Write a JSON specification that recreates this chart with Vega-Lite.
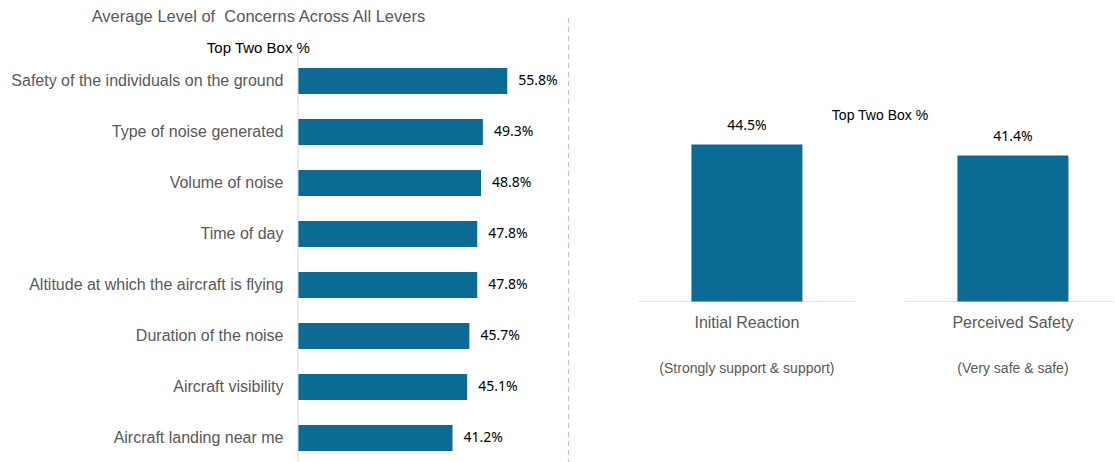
{
  "$schema": "https://vega.github.io/schema/vega-lite/v6.json",
  "padding": {"left": 10, "top": 8.5, "right": 0, "bottom": 0},
  "spacing": 0,
  "config": {"view": {"stroke": null}, "font": "Liberation Sans"},
  "hconcat": [
    {
      "title": {
        "text": "Average Level of\u00a0 Concerns Across All Levers",
        "subtitle": "Top Two Box %",
        "anchor": "middle",
        "frame": "bounds",
        "dx": -31,
        "fontSize": 16.5,
        "fontWeight": "normal",
        "color": "#595959",
        "font": "Liberation Sans",
        "subtitleFont": "Liberation Sans",
        "subtitleFontSize": 15,
        "subtitleColor": "#000000",
        "subtitlePadding": 15.5,
        "offset": -42
      },
      "width": 270,
      "height": 450,
      "data": {
        "values": [
          {"lever": "Safety of the individuals on the ground", "pct": 0.558},
          {"lever": "Type of noise generated", "pct": 0.493},
          {"lever": "Volume of noise", "pct": 0.488},
          {"lever": "Time of day", "pct": 0.478},
          {"lever": "Altitude at which the aircraft is flying", "pct": 0.478},
          {"lever": "Duration of the noise", "pct": 0.457},
          {"lever": "Aircraft visibility", "pct": 0.451},
          {"lever": "Aircraft landing near me", "pct": 0.412}
        ]
      },
      "encoding": {
        "y": {
          "field": "lever",
          "type": "nominal",
          "sort": null,
          "scale": {"paddingInner": 0, "paddingOuter": 0.4118, "align": 1},
          "axis": {
            "title": null,
            "ticks": false,
            "domain": false,
            "labelFontSize": 16,
            "labelColor": "#595959",
            "labelPadding": 15,
            "labelLimit": 400,
            "grid": false
          }
        }
      },
      "layer": [
        {
          "mark": {"type": "bar", "color": "#0b6b94", "height": {"band": 0.51}},
          "encoding": {
            "x": {"field": "pct", "type": "quantitative", "scale": {"domain": [0, 0.72], "nice": false}, "axis": null}
          }
        },
        {
          "mark": {"type": "bar", "color": "#d9d9d9", "height": {"band": 1}},
          "encoding": {
            "x": {"datum": -0.0013, "type": "quantitative", "axis": null},
            "x2": {"datum": 0.0013}
          }
        },
        {
          "mark": {"type": "text", "align": "left", "baseline": "middle", "dx": 11, "font": "Noto Sans", "fontSize": 14, "color": "#000000"},
          "encoding": {
            "x": {"field": "pct", "type": "quantitative", "axis": null},
            "text": {"field": "pct", "type": "quantitative", "format": ".1%"}
          }
        }
      ]
    },
    {
      "width": 546,
      "height": 450,
      "data": {
        "values": [
          {"measure": "Initial Reaction", "pct": 0.445, "sub": "(Strongly support & support)"},
          {"measure": "Perceived Safety", "pct": 0.414, "sub": "(Very safe & safe)"}
        ]
      },
      "encoding": {
        "x": {
          "field": "measure",
          "type": "nominal",
          "sort": null,
          "scale": {"paddingInner": 0.24, "paddingOuter": 0.1463, "align": 1},
          "axis": null
        }
      },
      "layer": [
        {
          "mark": {"type": "tick", "color": "#d9d9d9", "thickness": 1, "size": 217, "clip": true},
          "encoding": {"y": {"datum": 0, "type": "quantitative"}}
        },
        {
          "mark": {"type": "bar", "color": "#0b6b94", "width": 111},
          "encoding": {
            "y": {
              "field": "pct",
              "type": "quantitative",
              "scale": {"domain": [-0.459, 0.816], "nice": false},
              "axis": {
                "title": null,
                "labels": false,
                "ticks": false,
                "grid": false,
                "domain": true,
                "domainDash": [5, 4],
                "domainColor": "#c4c4c4",
                "domainWidth": 1.2
              }
            }
          }
        },
        {
          "mark": {"type": "text", "align": "center", "baseline": "middle", "dy": -18, "font": "Noto Sans", "fontSize": 14, "color": "#000000"},
          "encoding": {
            "y": {"field": "pct", "type": "quantitative"},
            "text": {"field": "pct", "type": "quantitative", "format": ".1%"}
          }
        },
        {
          "mark": {"type": "text", "align": "center", "baseline": "middle", "fontSize": 16, "color": "#595959"},
          "encoding": {
            "y": {"datum": -0.0595, "type": "quantitative"},
            "text": {"field": "measure"}
          }
        },
        {
          "mark": {"type": "text", "align": "center", "baseline": "middle", "fontSize": 14, "color": "#595959"},
          "encoding": {
            "y": {"datum": -0.19, "type": "quantitative"},
            "text": {"field": "sub"}
          }
        },
        {
          "data": {"values": [{"note": "Top Two Box %"}]},
          "mark": {"type": "text", "align": "center", "baseline": "middle", "dx": 32, "fontSize": 14, "color": "#000000"},
          "encoding": {
            "x": {"datum": "Initial Reaction", "bandPosition": 1},
            "y": {"datum": 0.527, "type": "quantitative"},
            "text": {"field": "note"}
          }
        }
      ]
    }
  ]
}
